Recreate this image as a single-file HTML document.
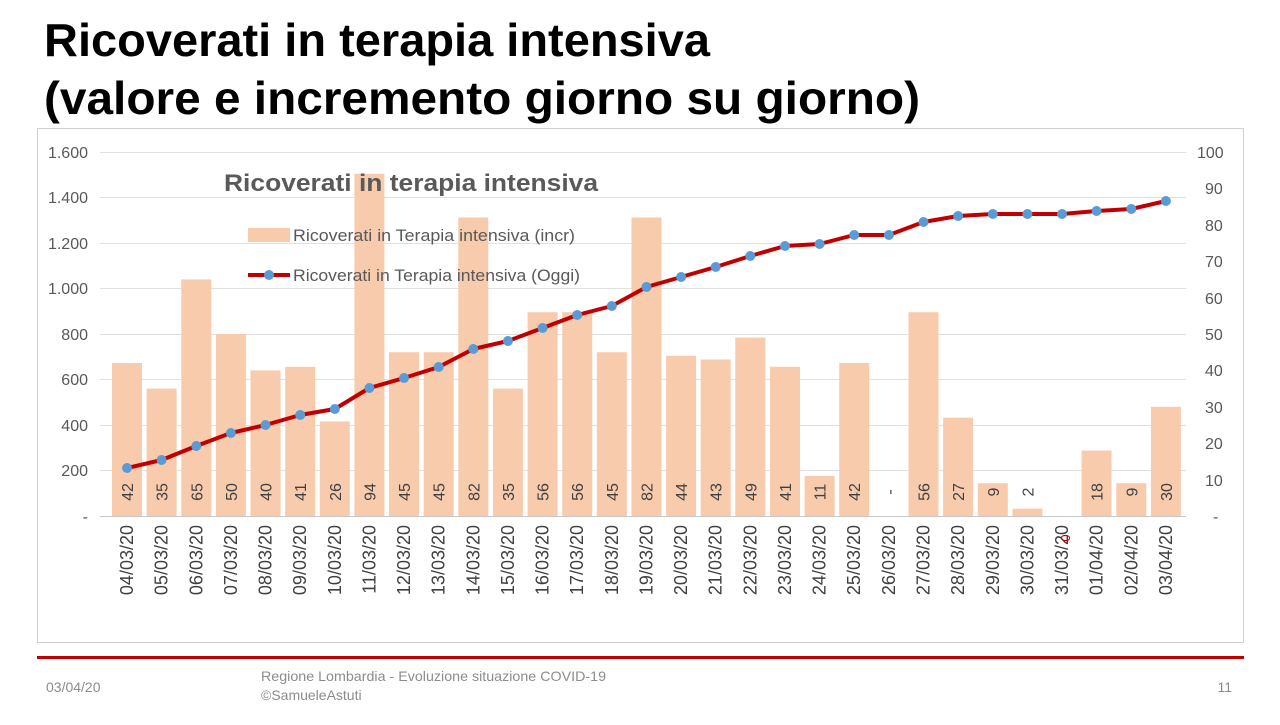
<!DOCTYPE html>
<html><head><meta charset="utf-8"><style>
body{margin:0;width:1280px;height:720px;background:#fff;overflow:hidden;font-family:"Liberation Sans","DejaVu Sans",sans-serif}
</style></head><body>
<svg width="1280" height="720" viewBox="0 0 1280 720" xmlns="http://www.w3.org/2000/svg" font-family="Liberation Sans, DejaVu Sans, sans-serif">
<text x="44" y="56" font-size="46" font-weight="bold" fill="#000" textLength="666" lengthAdjust="spacingAndGlyphs">Ricoverati in terapia intensiva</text>
<text x="44" y="114" font-size="46" font-weight="bold" fill="#000" textLength="876" lengthAdjust="spacingAndGlyphs">(valore e incremento giorno su giorno)</text>
<rect x="37.5" y="128.5" width="1206" height="514" fill="none" stroke="#d0d0d0"/>
<g stroke="#e0e0e0" stroke-width="1">
<line x1="100" y1="152.5" x2="1186" y2="152.5"/><line x1="100" y1="197.5" x2="1186" y2="197.5"/>
<line x1="100" y1="243.5" x2="1186" y2="243.5"/><line x1="100" y1="288.5" x2="1186" y2="288.5"/>
<line x1="100" y1="334.5" x2="1186" y2="334.5"/><line x1="100" y1="379.5" x2="1186" y2="379.5"/>
<line x1="100" y1="425.5" x2="1186" y2="425.5"/><line x1="100" y1="470.5" x2="1186" y2="470.5"/>
</g>
<line x1="100" y1="516.5" x2="1186" y2="516.5" stroke="#c8c8c8"/>
<g font-size="16" fill="#595959" text-anchor="end">
<text x="88" y="158">1.600</text><text x="88" y="203">1.400</text><text x="88" y="249">1.200</text><text x="88" y="294">1.000</text>
<text x="88" y="340">800</text><text x="88" y="385">600</text><text x="88" y="431">400</text><text x="88" y="476">200</text><text x="88" y="522">-</text>
</g>
<g font-size="16" fill="#595959" text-anchor="start">
<text x="1197" y="158">100</text><text x="1205" y="194">90</text><text x="1205" y="231">80</text><text x="1205" y="267">70</text>
<text x="1205" y="304">60</text><text x="1205" y="340">50</text><text x="1205" y="376">40</text><text x="1205" y="413">30</text>
<text x="1205" y="449">20</text><text x="1205" y="486">10</text><text x="1213" y="522">-</text>
</g>
<g fill="#F8CBAD">
<rect x="112" y="363" width="30" height="153"/><rect x="146.6" y="388.6" width="30" height="127.4"/>
<rect x="181.3" y="279.4" width="30" height="236.6"/><rect x="215.9" y="334" width="30" height="182"/>
<rect x="250.5" y="370.4" width="30" height="145.6"/><rect x="285.2" y="366.8" width="30" height="149.2"/>
<rect x="319.8" y="421.4" width="30" height="94.6"/><rect x="354.4" y="173.8" width="30" height="342.2"/>
<rect x="389" y="352.2" width="30" height="163.8"/><rect x="423.7" y="352.2" width="30" height="163.8"/>
<rect x="458.3" y="217.5" width="30" height="298.5"/><rect x="492.9" y="388.6" width="30" height="127.4"/>
<rect x="527.6" y="312.2" width="30" height="203.8"/><rect x="562.2" y="312.2" width="30" height="203.8"/>
<rect x="596.8" y="352.2" width="30" height="163.8"/><rect x="631.5" y="217.5" width="30" height="298.5"/>
<rect x="666.1" y="355.8" width="30" height="160.2"/><rect x="700.7" y="359.5" width="30" height="156.5"/>
<rect x="735.3" y="337.6" width="30" height="178.4"/><rect x="770" y="366.8" width="30" height="149.2"/>
<rect x="804.6" y="476" width="30" height="40"/><rect x="839.2" y="363" width="30" height="153"/>
<rect x="908.5" y="312.2" width="30" height="203.8"/><rect x="943.1" y="417.7" width="30" height="98.3"/>
<rect x="977.8" y="483.2" width="30" height="32.8"/><rect x="1012.4" y="508.7" width="30" height="7.3"/>
<rect x="1081.6" y="450.5" width="30" height="65.5"/><rect x="1116.3" y="483.2" width="30" height="32.8"/>
<rect x="1150.9" y="406.8" width="30" height="109.2"/>
</g>
<text x="224" y="191" font-size="24" font-weight="bold" fill="#595959" textLength="374" lengthAdjust="spacingAndGlyphs">Ricoverati in terapia intensiva</text>
<rect x="248" y="228" width="42" height="14" fill="#F8CBAD"/>
<text x="293" y="241" font-size="17" fill="#595959" textLength="282" lengthAdjust="spacingAndGlyphs">Ricoverati in Terapia intensiva (incr)</text>
<line x1="248" y1="275" x2="290" y2="275" stroke="#C00000" stroke-width="4"/>
<circle cx="269" cy="275" r="5" fill="#5B9BD5"/>
<text x="293" y="281" font-size="17" fill="#595959" textLength="287" lengthAdjust="spacingAndGlyphs">Ricoverati in Terapia intensiva (Oggi)</text>
<polyline fill="none" stroke="#C00000" stroke-width="4" stroke-linejoin="round" points="127,468 161.6,460 196.3,446 230.9,433 265.5,425 300.2,415 334.8,409 369.4,388 404,378 438.7,367 473.3,349 507.9,341 542.6,328 577.2,315 611.8,306 646.5,287 681.1,277 715.7,267 750.3,256 785,246 819.6,244 854.2,235 888.9,235 923.5,222 958.1,216 992.8,214 1027.4,214 1062,214 1096.6,211 1131.3,209 1165.9,201"/>
<g fill="#5B9BD5">
<circle cx="127" cy="468" r="5"/><circle cx="161.6" cy="460" r="5"/><circle cx="196.3" cy="446" r="5"/><circle cx="230.9" cy="433" r="5"/>
<circle cx="265.5" cy="425" r="5"/><circle cx="300.2" cy="415" r="5"/><circle cx="334.8" cy="409" r="5"/><circle cx="369.4" cy="388" r="5"/>
<circle cx="404" cy="378" r="5"/><circle cx="438.7" cy="367" r="5"/><circle cx="473.3" cy="349" r="5"/><circle cx="507.9" cy="341" r="5"/>
<circle cx="542.6" cy="328" r="5"/><circle cx="577.2" cy="315" r="5"/><circle cx="611.8" cy="306" r="5"/><circle cx="646.5" cy="287" r="5"/>
<circle cx="681.1" cy="277" r="5"/><circle cx="715.7" cy="267" r="5"/><circle cx="750.3" cy="256" r="5"/><circle cx="785" cy="246" r="5"/>
<circle cx="819.6" cy="244" r="5"/><circle cx="854.2" cy="235" r="5"/><circle cx="888.9" cy="235" r="5"/><circle cx="923.5" cy="222" r="5"/>
<circle cx="958.1" cy="216" r="5"/><circle cx="992.8" cy="214" r="5"/><circle cx="1027.4" cy="214" r="5"/><circle cx="1062" cy="214" r="5"/>
<circle cx="1096.6" cy="211" r="5"/><circle cx="1131.3" cy="209" r="5"/><circle cx="1165.9" cy="201" r="5"/>
</g>
<g font-size="16" fill="#404040" text-anchor="middle">
<text transform="translate(133,492) rotate(-90)">42</text><text transform="translate(167.6,492) rotate(-90)">35</text>
<text transform="translate(202.3,492) rotate(-90)">65</text><text transform="translate(236.9,492) rotate(-90)">50</text>
<text transform="translate(271.5,492) rotate(-90)">40</text><text transform="translate(306.2,492) rotate(-90)">41</text>
<text transform="translate(340.8,492) rotate(-90)">26</text><text transform="translate(375.4,492) rotate(-90)">94</text>
<text transform="translate(410,492) rotate(-90)">45</text><text transform="translate(444.7,492) rotate(-90)">45</text>
<text transform="translate(479.3,492) rotate(-90)">82</text><text transform="translate(513.9,492) rotate(-90)">35</text>
<text transform="translate(548.6,492) rotate(-90)">56</text><text transform="translate(583.2,492) rotate(-90)">56</text>
<text transform="translate(617.8,492) rotate(-90)">45</text><text transform="translate(652.5,492) rotate(-90)">82</text>
<text transform="translate(687.1,492) rotate(-90)">44</text><text transform="translate(721.7,492) rotate(-90)">43</text>
<text transform="translate(756.3,492) rotate(-90)">49</text><text transform="translate(791,492) rotate(-90)">41</text>
<text transform="translate(825.6,492) rotate(-90)">11</text><text transform="translate(860.2,492) rotate(-90)">42</text>
<text transform="translate(894.9,492) rotate(-90)">-</text><text transform="translate(929.5,492) rotate(-90)">56</text>
<text transform="translate(964.1,492) rotate(-90)">27</text><text transform="translate(998.8,492) rotate(-90)">9</text>
<text transform="translate(1033.4,492) rotate(-90)">2</text>
<text transform="translate(1102.6,492) rotate(-90)">18</text><text transform="translate(1137.3,492) rotate(-90)">9</text>
<text transform="translate(1171.9,492) rotate(-90)">30</text>
</g>
<g font-size="18" fill="#404040" text-anchor="end">
<text transform="translate(133,525) rotate(-90)">04/03/20</text><text transform="translate(167.6,525) rotate(-90)">05/03/20</text>
<text transform="translate(202.3,525) rotate(-90)">06/03/20</text><text transform="translate(236.9,525) rotate(-90)">07/03/20</text>
<text transform="translate(271.5,525) rotate(-90)">08/03/20</text><text transform="translate(306.2,525) rotate(-90)">09/03/20</text>
<text transform="translate(340.8,525) rotate(-90)">10/03/20</text><text transform="translate(375.4,525) rotate(-90)">11/03/20</text>
<text transform="translate(410,525) rotate(-90)">12/03/20</text><text transform="translate(444.7,525) rotate(-90)">13/03/20</text>
<text transform="translate(479.3,525) rotate(-90)">14/03/20</text><text transform="translate(513.9,525) rotate(-90)">15/03/20</text>
<text transform="translate(548.6,525) rotate(-90)">16/03/20</text><text transform="translate(583.2,525) rotate(-90)">17/03/20</text>
<text transform="translate(617.8,525) rotate(-90)">18/03/20</text><text transform="translate(652.5,525) rotate(-90)">19/03/20</text>
<text transform="translate(687.1,525) rotate(-90)">20/03/20</text><text transform="translate(721.7,525) rotate(-90)">21/03/20</text>
<text transform="translate(756.3,525) rotate(-90)">22/03/20</text><text transform="translate(791,525) rotate(-90)">23/03/20</text>
<text transform="translate(825.6,525) rotate(-90)">24/03/20</text><text transform="translate(860.2,525) rotate(-90)">25/03/20</text>
<text transform="translate(894.9,525) rotate(-90)">26/03/20</text><text transform="translate(929.5,525) rotate(-90)">27/03/20</text>
<text transform="translate(964.1,525) rotate(-90)">28/03/20</text><text transform="translate(998.8,525) rotate(-90)">29/03/20</text>
<text transform="translate(1033.4,525) rotate(-90)">30/03/20</text><text transform="translate(1068,525) rotate(-90)">31/03/20</text>
<text transform="translate(1102.6,525) rotate(-90)">01/04/20</text><text transform="translate(1137.3,525) rotate(-90)">02/04/20</text>
<text transform="translate(1171.9,525) rotate(-90)">03/04/20</text>
</g>
<text transform="translate(1070,538) rotate(-90)" font-size="13" fill="#C00000" text-anchor="middle">0</text>
<line x1="37" y1="657.5" x2="1244" y2="657.5" stroke="#C00000" stroke-width="3"/>
<text x="46" y="692" font-size="14" fill="#8c8c8c">03/04/20</text>
<text x="261" y="681" font-size="14" fill="#8c8c8c" textLength="345" lengthAdjust="spacingAndGlyphs">Regione Lombardia - Evoluzione situazione COVID-19</text>
<text x="261" y="700" font-size="14" fill="#8c8c8c">©SamueleAstuti</text>
<text x="1232" y="692" font-size="14" fill="#8c8c8c" text-anchor="end">11</text>
</svg>
</body></html>
